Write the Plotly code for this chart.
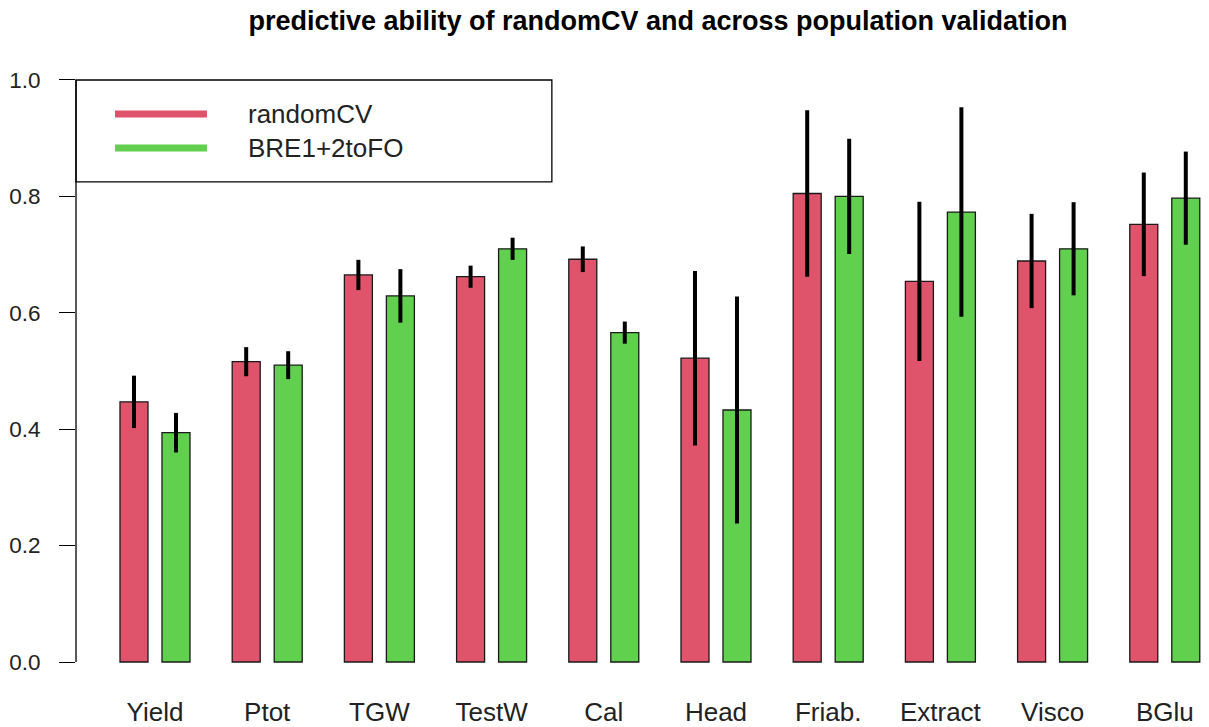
import plotly.graph_objects as go

traits = ["Yield", "Ptot", "TGW", "TestW", "Cal", "Head", "Friab.", "Extract", "Visco", "BGlu"]
random_cv = [0.447, 0.516, 0.665, 0.662, 0.692, 0.522, 0.805, 0.654, 0.689, 0.752]
random_cv_err = [0.045, 0.025, 0.026, 0.019, 0.022, 0.150, 0.143, 0.137, 0.081, 0.089]
bre_to_fo = [0.394, 0.510, 0.629, 0.710, 0.566, 0.433, 0.800, 0.773, 0.710, 0.797]
bre_to_fo_err = [0.034, 0.024, 0.046, 0.019, 0.019, 0.195, 0.099, 0.180, 0.080, 0.080]
series_names = ["randomCV", "BRE1+2toFO"]
ytick_vals = [0.0, 0.2, 0.4, 0.6, 0.8, 1.0]
ytick_text = ["0.0", "0.2", "0.4", "0.6", "0.8", "1.0"]

RED = "#DF536B"
GREEN = "#61D04F"
FONT = "Liberation Sans, Arial, sans-serif"

fig = go.Figure()
for name, vals, errs, col in [
    (series_names[0], random_cv, random_cv_err, RED),
    (series_names[1], bre_to_fo, bre_to_fo_err, GREEN),
]:
    fig.add_trace(go.Bar(
        x=traits, y=vals, name=name,
        marker=dict(color=col, line=dict(color="#1a1a1a", width=1.3)),
        error_y=dict(type="data", array=errs, visible=True,
                     color="black", thickness=4, width=0),
        showlegend=False,
    ))

# legend drawn by hand (R-style box with thick line samples)
legend_y = [0.9416, 0.883]
for name, col, ly in zip(series_names, [RED, GREEN], legend_y):
    fig.add_shape(type="line", xref="paper", yref="y",
                  x0=0.0344, x1=0.1156, y0=ly, y1=ly,
                  line=dict(color=col, width=7))
    fig.add_annotation(text=name, xref="paper", yref="y", x=0.150, y=ly,
                       xanchor="left", yanchor="middle", showarrow=False,
                       font=dict(family=FONT, size=26, color="#222222"))
fig.add_shape(type="rect", xref="paper", yref="y",
              x0=0, x1=0.420, y0=0.825, y1=1.0,
              line=dict(color="black", width=1.3), fillcolor="rgba(0,0,0,0)")

# y axis line spanning only the tick range (R style)
fig.add_shape(type="line", xref="paper", yref="y", x0=0, x1=0,
              y0=ytick_vals[0], y1=ytick_vals[-1],
              line=dict(color="black", width=1.3))

fig.update_layout(
    width=1209, height=727,
    margin=dict(l=76, r=0, t=57, b=42, autoexpand=False),
    paper_bgcolor="white", plot_bgcolor="white",
    barmode="group", bargap=0.2513, bargroupgap=1 / 3,
    title=dict(text="<b>predictive ability of randomCV and across population validation</b>",
               x=658 / 1209, xanchor="center", xref="container",
               y=1 - 21 / 727, yanchor="middle", yref="container",
               font=dict(family=FONT, size=27, color="black")),
    font=dict(family=FONT, color="#222222"),
)
fig.update_xaxes(
    type="category", range=[-0.704, 9.394], automargin=False,
    showline=False, showgrid=False, zeroline=False,
    ticks="outside", ticklen=4, tickcolor="rgba(0,0,0,0)",
    tickfont=dict(family=FONT, size=26, color="#222222"),
)
fig.update_yaxes(
    range=[-0.0395, 1.0395], automargin=False,
    tickvals=ytick_vals, ticktext=ytick_text,
    showline=False, showgrid=False, zeroline=False,
    ticks="outside", ticklen=16, tickwidth=1.3, tickcolor="black",
    ticklabelstandoff=14,
    tickfont=dict(family=FONT, size=22.5, color="#222222"),
)

fig.write_html("out.html")
